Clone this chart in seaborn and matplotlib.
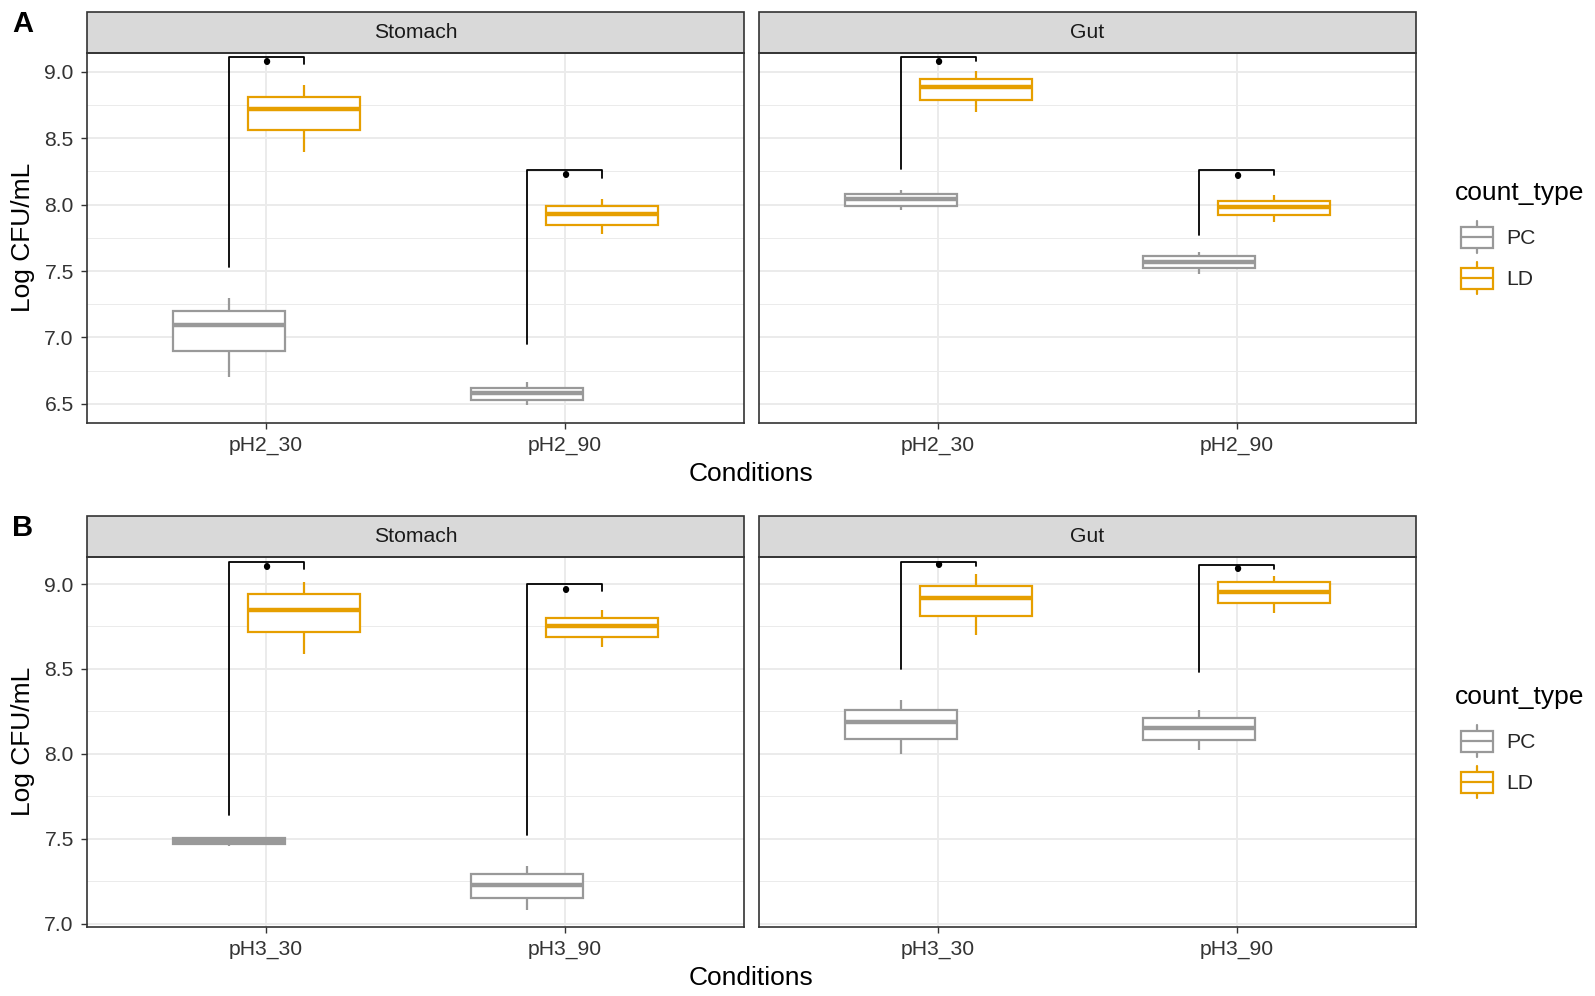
# Log CFU/mL of PC vs LD counts, stomach and gut, two pH levels

import numpy as np
import pandas as pd
import matplotlib.pyplot as plt
from matplotlib.patches import Rectangle, Patch
from matplotlib.lines import Line2D
from matplotlib.legend_handler import HandlerBase
from matplotlib.ticker import MultipleLocator
import seaborn as sns

# ---- data ----
tissues = ["Stomach", "Gut"]
count_types = ["PC", "LD"]
cond_A = ["pH2_30", "pH2_90"]
cond_B = ["pH3_30", "pH3_90"]

# five values per box (min, q1, median, q3, max), one row per condition
A_stomach_PC = [[6.70, 6.90, 7.09, 7.20, 7.30], [6.49, 6.53, 6.58, 6.62, 6.66]]
A_stomach_LD = [[8.40, 8.56, 8.72, 8.81, 8.90], [7.78, 7.85, 7.93, 7.99, 8.04]]
A_gut_PC = [[7.96, 7.99, 8.04, 8.08, 8.11], [7.48, 7.52, 7.57, 7.61, 7.64]]
A_gut_LD = [[8.70, 8.79, 8.885, 8.95, 9.01], [7.87, 7.92, 7.98, 8.03, 8.07]]
B_stomach_PC = [[7.46, 7.47, 7.485, 7.505, 7.51], [7.08, 7.15, 7.23, 7.29, 7.34]]
B_stomach_LD = [[8.59, 8.72, 8.85, 8.94, 9.01], [8.63, 8.69, 8.755, 8.80, 8.85]]
B_gut_PC = [[8.00, 8.09, 8.185, 8.26, 8.32], [8.02, 8.08, 8.155, 8.21, 8.26]]
B_gut_LD = [[8.70, 8.81, 8.92, 8.99, 9.06], [8.83, 8.89, 8.955, 9.01, 9.05]]

# significance brackets per condition: PC leg start, top, LD leg end, label y
A_stomach_brk = [[7.53, 9.11, 9.06, 9.06], [6.95, 8.26, 8.20, 8.21]]
A_gut_brk = [[8.27, 9.115, 9.085, 9.06], [7.77, 8.26, 8.22, 8.20]]
B_stomach_brk = [[7.64, 9.13, 9.09, 9.09], [7.52, 9.00, 8.96, 8.955]]
B_gut_brk = [[8.50, 9.13, 9.105, 9.10], [8.48, 9.11, 9.09, 9.075]]
sig_label = "•"

readings = {
    ("A", "Stomach", "PC"): A_stomach_PC, ("A", "Stomach", "LD"): A_stomach_LD,
    ("A", "Gut", "PC"): A_gut_PC, ("A", "Gut", "LD"): A_gut_LD,
    ("B", "Stomach", "PC"): B_stomach_PC, ("B", "Stomach", "LD"): B_stomach_LD,
    ("B", "Gut", "PC"): B_gut_PC, ("B", "Gut", "LD"): B_gut_LD,
}
brackets = {("A", "Stomach"): A_stomach_brk, ("A", "Gut"): A_gut_brk,
            ("B", "Stomach"): B_stomach_brk, ("B", "Gut"): B_gut_brk}
conds = {"A": cond_A, "B": cond_B}

# ---- style ----
colors = {"PC": "#999999", "LD": "#E69F00"}
offset = {"PC": -0.125, "LD": 0.125}   # dodge
box_w = 0.375
ylims = {"A": (6.357, 9.145), "B": (6.982, 9.161)}
ymajor = {"A": np.arange(6.5, 9.01, 0.5), "B": np.arange(7.0, 9.01, 0.5)}

rows = []
for (panel, tissue, ct), vals in readings.items():
    for i, cond in enumerate(conds[panel]):
        for v in vals[i]:
            rows.append(dict(panel=panel, tissue=tissue, count_type=ct,
                             condition=cond, xpos=i + offset[ct], value=v))
df = pd.DataFrame(rows)

sns.set_theme(style="white")
plt.rcParams["font.family"] = ["Liberation Sans", "DejaVu Sans"]

W, H = 1595, 996
fig = plt.figure(figsize=(W / 100, H / 100), dpi=100)

def frac(left, top, w, h):
    return [left / W, 1 - (top + h) / H, w / W, h / H]

panel_top = {"A": 52.7, "B": 556.7}
panel_h = 370.0
strip_h = 40.5
lefts = {"Stomach": 87, "Gut": 759}
text_col = "#333333"


class BoxKey(HandlerBase):
    def create_artists(self, legend, orig_handle, xdescent, ydescent,
                       width, height, fontsize, trans):
        c = orig_handle.get_edgecolor()
        x0, y0 = -xdescent, -ydescent
        lo, hi = y0 + 0.17 * height, y0 + 0.83 * height
        box = Rectangle((x0, lo), width, hi - lo, facecolor="white",
                        edgecolor=c, lw=1.6, transform=trans)
        med = Line2D([x0, x0 + width], [y0 + height / 2] * 2, color=c, lw=1.6, transform=trans)
        w1 = Line2D([x0 + width / 2] * 2, [y0, lo], color=c, lw=1.6, transform=trans)
        w2 = Line2D([x0 + width / 2] * 2, [hi, y0 + height], color=c, lw=1.6, transform=trans)
        return [w1, w2, box, med]


for panel in ["A", "B"]:
    for tissue in tissues:
        ax = fig.add_axes(frac(lefts[tissue], panel_top[panel], 657, panel_h))
        sub = df[(df.panel == panel) & (df.tissue == tissue)]
        for ct in count_types:
            sns.boxplot(data=sub[sub.count_type == ct], x="xpos", y="value",
                        native_scale=True, width=box_w, color="white",
                        linecolor=colors[ct], linewidth=1.6, saturation=1,
                        showcaps=False, whis=(0, 100), fliersize=0,
                        medianprops={"linewidth": 3.2}, ax=ax)

        for i, (lo, top, tip, ly) in enumerate(brackets[(panel, tissue)]):
            ax.plot([i + offset["PC"], i + offset["PC"], i + offset["LD"], i + offset["LD"]],
                    [lo, top, top, tip], color="black", lw=1.3, zorder=5)
            ax.text(i, ly, sig_label, ha="center", va="center", fontsize=17,
                    color="black", zorder=6)

        ax.set_xlim(-0.6, 1.6)
        ax.set_ylim(*ylims[panel])
        ax.set_xticks([0, 1])
        ax.set_xticklabels(conds[panel])
        ax.set_yticks(ymajor[panel])
        ax.set_yticklabels([f"{t:.1f}" for t in ymajor[panel]])
        ax.yaxis.set_minor_locator(MultipleLocator(0.25))
        ax.set_xlabel("")
        ax.set_ylabel("")
        ax.set_axisbelow(True)
        ax.grid(which="major", color="#EBEBEB", lw=1.4)
        ax.grid(which="minor", axis="y", color="#EBEBEB", lw=0.7)
        ax.tick_params(which="major", length=4.5, width=1.0, color="#333333",
                       labelsize=15.2, labelcolor=text_col, bottom=True, left=True)
        ax.tick_params(axis="x", pad=5)
        ax.tick_params(axis="y", pad=5)
        ax.tick_params(which="minor", length=0)
        for s in ax.spines.values():
            s.set_color("#333333")
            s.set_linewidth(1.2)
        if tissue == "Gut":
            ax.tick_params(axis="y", which="both", length=0, labelleft=False)

        # facet strip
        sh = strip_h / panel_h
        ax.add_patch(Rectangle((0, 1), 1, sh, transform=ax.transAxes, clip_on=False,
                               facecolor="#D9D9D9", edgecolor="#333333", lw=1.2))
        ax.text(0.5, 1 + sh / 2, tissue, transform=ax.transAxes, ha="center",
                va="center", fontsize=15.2, color="#1A1A1A")

    top = panel_top[panel]
    fig.text(23.5 / W, 1 - (top + panel_h / 2) / H, "Log CFU/mL", rotation=90,
             ha="center", va="center", fontsize=19, color="black")
    fig.text(751 / W, 1 - (top + 421) / H, "Conditions", ha="center",
             va="center", fontsize=19, color="black")
    fig.text(23 / W, 1 - (top - 28.5) / H, panel, ha="center", va="center",
             fontsize=21, fontweight="bold", color="black")

    # legend: title as its own text, keys below it
    fig.text(1455 / W, 1 - (top + 140.5) / H, "count_type", ha="left",
             va="center", fontsize=19, color="black")
    handles = [Patch(edgecolor=colors[ct]) for ct in count_types]
    fig.legend(handles=handles, labels=count_types,
               handler_map={Patch: BoxKey()}, loc="upper left",
               bbox_to_anchor=(1460.5 / W, 1 - (top + 168.5) / H), frameon=False,
               fontsize=15.2, handlelength=1.52, handleheight=1.95,
               handletextpad=0.65, labelspacing=0.43, borderpad=0,
               borderaxespad=0)

fig.savefig("out.png", dpi=100)
